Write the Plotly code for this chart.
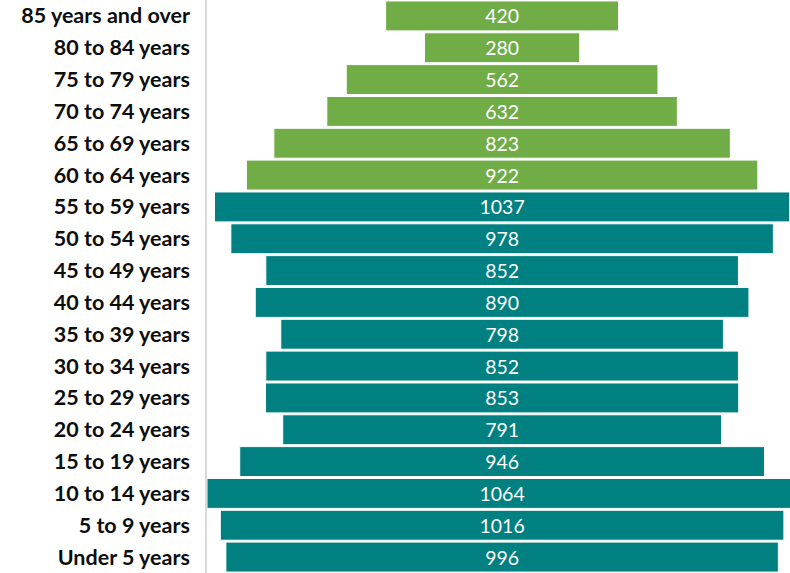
import plotly.graph_objects as go

categories = ["85 years and over", "80 to 84 years", "75 to 79 years", "70 to 74 years",
              "65 to 69 years", "60 to 64 years", "55 to 59 years", "50 to 54 years",
              "45 to 49 years", "40 to 44 years", "35 to 39 years", "30 to 34 years",
              "25 to 29 years", "20 to 24 years", "15 to 19 years", "10 to 14 years",
              "5 to 9 years", "Under 5 years"]
values = [420, 280, 562, 632, 823, 922, 1037, 978, 852, 890, 798, 852, 853, 791, 946, 1064, 1016, 996]
older_groups = categories[:6]

GREEN = "#70AD47"
TEAL = "#008080"
colors = [GREEN if c in older_groups else TEAL for c in categories]
bases = [-v / 2 for v in values]

fig = go.Figure(go.Bar(
    y=categories, x=values, base=bases, orientation="h",
    marker=dict(color=colors, line=dict(color="white", width=1)),
    text=[str(v) for v in values], textposition="inside", insidetextanchor="middle",
    textangle=0, textfont=dict(color="white", size=19.5, family="Lato"),
    hoverinfo="skip",
))

fig.update_layout(
    width=790, height=573,
    margin=dict(l=207, r=0, t=0, b=0),
    paper_bgcolor="white", plot_bgcolor="white",
    bargap=0.06, showlegend=False,
    xaxis=dict(range=[-532, 519], visible=False, fixedrange=True),
    yaxis=dict(autorange="reversed", showline=True, linecolor="#d9d9d9", linewidth=1.5,
               showgrid=False, ticks="", ticklabelstandoff=11,
               tickfont=dict(family="Lato", size=21.5, color="#0d0d0d", weight="bold")),
    font=dict(family="Lato"),
)

fig.write_html("out.html", config={"displayModeBar": False},
               post_script="document.body.style.margin='0';document.body.style.overflow='hidden';")
